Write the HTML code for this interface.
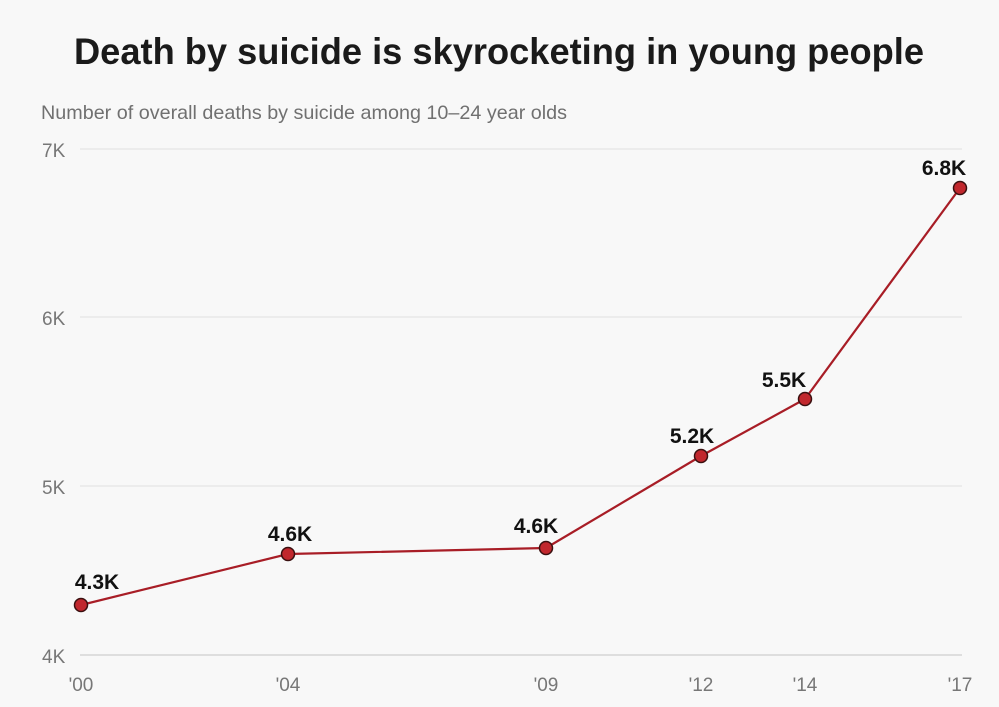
<!DOCTYPE html>
<html><head><meta charset="utf-8"><style>
html,body{margin:0;padding:0;background:#f8f8f8;}
svg{display:block;font-family:"Liberation Sans",sans-serif;}
</style></head><body>
<svg width="999" height="707" viewBox="0 0 999 707">
<rect width="999" height="707" fill="#f8f8f8"/>
<text x="499" y="64" text-anchor="middle" font-size="37.5" font-weight="bold" fill="#1a1a1a" textLength="850" lengthAdjust="spacingAndGlyphs">Death by suicide is skyrocketing in young people</text>
<text x="41" y="119" font-size="19.5" fill="#707070" textLength="526" lengthAdjust="spacingAndGlyphs">Number of overall deaths by suicide among 10–24 year olds</text>
<g stroke="#e4e4e4" stroke-width="1.3">
<line x1="80" y1="149" x2="962" y2="149"/>
<line x1="80" y1="317" x2="962" y2="317"/>
<line x1="80" y1="486" x2="962" y2="486"/>
</g>
<line x1="80" y1="655" x2="962" y2="655" stroke="#cfcfcf" stroke-width="1.3"/>
<g font-size="19" fill="#777">
<text x="42" y="157">7K</text>
<text x="42" y="325">6K</text>
<text x="42" y="494">5K</text>
<text x="42" y="663">4K</text>
</g>
<g font-size="19" fill="#777" text-anchor="middle">
<text x="81" y="691">'00</text>
<text x="288" y="691">'04</text>
<text x="546" y="691">'09</text>
<text x="701" y="691">'12</text>
<text x="805" y="691">'14</text>
<text x="960" y="691">'17</text>
</g>
<polyline points="81,605 288,554 546,548 701,456 805,399 960,188" fill="none" stroke="#a81d26" stroke-width="2.2"/>
<g fill="#c1272d" stroke="#3a1010" stroke-width="1.5">
<circle cx="81" cy="605" r="6.5"/>
<circle cx="288" cy="554" r="6.5"/>
<circle cx="546" cy="548" r="6.5"/>
<circle cx="701" cy="456" r="6.5"/>
<circle cx="805" cy="399" r="6.5"/>
<circle cx="960" cy="188" r="6.5"/>
</g>
<g font-size="21" font-weight="bold" fill="#111" text-anchor="middle">
<text x="97" y="589">4.3K</text>
<text x="290" y="541">4.6K</text>
<text x="536" y="533">4.6K</text>
<text x="692" y="443">5.2K</text>
<text x="784" y="387">5.5K</text>
<text x="944" y="175">6.8K</text>
</g>
</svg>
</body></html>
